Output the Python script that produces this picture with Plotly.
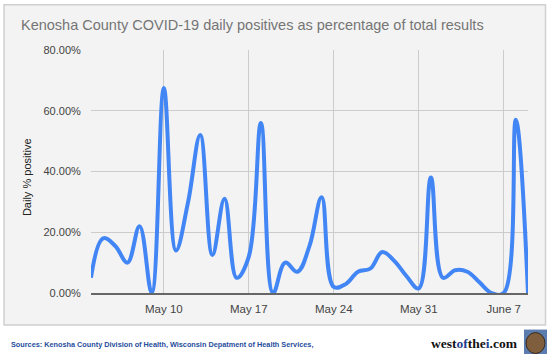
import plotly.graph_objects as go
import pandas as pd

dates = pd.date_range("2020-05-04", "2020-06-09", freq="D")
pct_positive = [5, 18, 15.5, 10, 22, 0, 67.5, 14, 30, 52, 12.5, 31, 5, 12, 56, 0, 10, 7, 15.5, 31.5,
                2, 3, 7, 8, 13.5, 10.5, 5.5, 1.5, 38, 5, 7.5, 7, 3.5, 0, 0, 57, 0]
x_tick_dates = ["2020-05-10", "2020-05-17", "2020-05-24", "2020-05-31", "2020-06-07"]
x_tick_labels = ["May 10", "May 17", "May 24", "May 31", "June 7"]
y_ticks = [0, 20, 40, 60, 80]
y_tick_labels = ["0.00%", "20.00%", "40.00%", "60.00%", "80.00%"]

title_text = "Kenosha County COVID-19 daily positives as percentage of total results"
y_title = "Daily % positive"
source_text = "Sources: Kenosha County Division of Health, Wisconsin Depatment of Health Services,"

W, H = 550, 354
L, R, T, B = 91, 528, 49.5, 293.3
pw, ph = R - L, B - T

def px(xp):
    return (xp - L) / pw

def py(yp):
    return (B - yp) / ph

fig = go.Figure()
fig.add_trace(go.Scatter(
    x=dates, y=pct_positive, mode="lines",
    line=dict(color="#4285f4", width=4, shape="spline", smoothing=1.1),
    hoverinfo="skip", showlegend=False,
))

shapes = [
    dict(type="rect", xref="paper", yref="paper", x0=px(4), x1=px(545.5), y0=py(325.5), y1=py(4),
         fillcolor="#f3f3f3", line=dict(color="#d0d0d0", width=1.5), layer="below"),
    dict(type="rect", xref="paper", yref="paper", x0=px(524), x1=px(547), y0=py(356), y1=py(330),
         fillcolor="#5a7cae", line=dict(width=0), layer="above"),
    dict(type="circle", xref="paper", yref="paper", x0=px(526), x1=px(545), y0=py(354), y1=py(333),
         fillcolor="#7e5e3c", line=dict(color="#3a2a1a", width=1), layer="above"),
]

annotations = [
    dict(text=y_title, xref="paper", yref="paper", x=px(27), y=py(177), textangle=-90,
         showarrow=False, font=dict(family="Arial, Liberation Sans", size=11, color="#222222"),
         xanchor="center", yanchor="middle"),
    dict(text="<b>" + source_text + "</b>", xref="paper", yref="paper", x=px(9), y=py(345),
         showarrow=False, font=dict(family="Arial, Liberation Sans", size=7.3, color="#1f4e9c"),
         xanchor="left", yanchor="middle"),
    dict(text="<b>west<span style='color:#1f3f8f'>of</span>the<span style='color:#1f3f8f'>i</span>.com</b>",
         xref="paper", yref="paper", x=px(520), y=py(344),
         showarrow=False, font=dict(family="Liberation Serif, DejaVu Serif", size=13.5, color="#111111"),
         xanchor="right", yanchor="middle"),
]

fig.update_layout(
    width=W, height=H,
    margin=dict(l=L, r=W - R, t=T, b=H - B, pad=0),
    paper_bgcolor="white", plot_bgcolor="rgba(0,0,0,0)",
    title=dict(text=title_text, x=21 / W, xref="container", xanchor="left",
               y=1 - 25 / H, yref="container", yanchor="middle",
               font=dict(family="Arial, Liberation Sans", size=14.5, color="#757575")),
    shapes=shapes, annotations=annotations,
    xaxis=dict(range=[dates[0], dates[-1]], tickvals=x_tick_dates, ticktext=x_tick_labels,
               showgrid=True, gridcolor="#cccccc", gridwidth=1, zeroline=False,
               ticks="outside", ticklen=4, tickcolor="rgba(0,0,0,0)",
               showline=True, linecolor="#666666", linewidth=2,
               tickfont=dict(family="Arial, Liberation Sans", size=11.5, color="#444444")),
    yaxis=dict(range=[0, 80], tickvals=y_ticks, ticktext=y_tick_labels,
               showgrid=True, gridcolor="#cccccc", gridwidth=1, zeroline=False,
               ticks="outside", ticklen=7, tickcolor="rgba(0,0,0,0)",
               tickfont=dict(family="Arial, Liberation Sans", size=11, color="#444444")),
)

fig.write_html("out.html")
